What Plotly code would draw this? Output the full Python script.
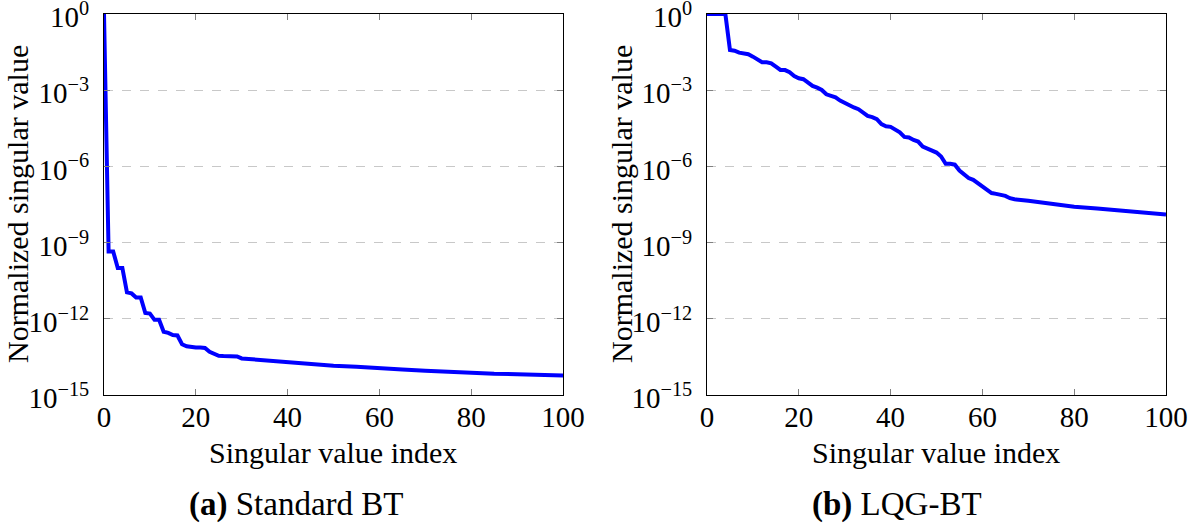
import plotly.graph_objects as go

# ---- data ----
bt_index = [0, 1, 2, 3, 4, 5, 6, 7, 8, 9, 10, 11, 12, 13, 14, 15, 16, 17, 18, 19,
            20, 21, 22, 23, 24, 25, 26, 27, 28, 29, 30, 35, 40, 45, 50, 55, 60, 65,
            70, 75, 80, 85, 90, 95, 100]
bt_values = [1.0, 4.5e-10, 4.5e-10, 1.0e-10, 1.0e-10, 1.1e-11, 1.0e-11, 6.9e-12, 6.9e-12,
             1.7e-12, 1.6e-12, 9.1e-13, 9.1e-13, 3.1e-13, 2.8e-13, 2.3e-13, 2.2e-13,
             1.0e-13, 8.3e-14, 7.6e-14, 7.4e-14, 7.4e-14, 7.1e-14, 5.0e-14, 4.1e-14,
             3.5e-14, 3.4e-14, 3.4e-14, 3.3e-14, 3.3e-14, 2.75e-14, 2.3e-14, 1.95e-14,
             1.66e-14, 1.41e-14, 1.29e-14, 1.10e-14, 1.0e-14, 9.1e-15, 8.1e-15, 7.4e-15,
             6.9e-15, 6.6e-15, 6.3e-15, 5.9e-15]

lqg_index = list(range(0, 68)) + [70, 72, 75, 80, 85, 90, 95, 100]
lqg_values = [1.0, 1.0, 1.0, 1.0, 1.0, 3.8e-2, 3.6e-2, 3.0e-2, 2.8e-2, 2.6e-2,
              2.1e-2, 1.66e-2, 1.26e-2, 1.26e-2, 1.15e-2, 8.5e-3, 6.3e-3, 6.2e-3, 5.1e-3, 3.6e-3,
              2.95e-3, 2.7e-3, 2.0e-3, 1.48e-3, 1.26e-3, 1.02e-3, 6.9e-4, 6.2e-4, 5.2e-4, 3.9e-4,
              3.1e-4, 2.5e-4, 2.1e-4, 1.78e-4, 1.32e-4, 9.8e-5, 8.7e-5, 7.2e-5, 4.6e-5, 3.8e-5,
              3.6e-5, 2.75e-5, 2.2e-5, 1.45e-5, 1.38e-5, 1.1e-5, 9.5e-6, 6.0e-6, 4.9e-6, 4.1e-6,
              3.5e-6, 2.45e-6, 1.26e-6, 1.26e-6, 1.17e-6, 6.9e-7, 4.7e-7, 3.5e-7, 2.95e-7, 2.2e-7,
              1.62e-7, 1.12e-7, 8.9e-8, 8.3e-8, 7.6e-8, 6.9e-8, 5.6e-8, 5.1e-8,
              4.4e-8, 3.9e-8, 3.4e-8, 2.6e-8, 2.2e-8, 1.82e-8, 1.55e-8, 1.29e-8]

y_tickvals = [1e-15, 1e-12, 1e-9, 1e-6, 1e-3, 1e0]
y_ticktext = ["10<sup>\u221215</sup>", "10<sup>\u221212</sup>", "10<sup>\u22129</sup>",
              "10<sup>\u22126</sup>", "10<sup>\u22123</sup>", "10<sup>0</sup>"]
x_tickvals = [0, 20, 40, 60, 80, 100]

x_title = "Singular value index"
y_title = "Normalized singular value"
captions = ["<b>(a)</b> Standard BT", "<b>(b)</b> LQG-BT"]

W, H = 1195, 527
FONT = "Liberation Serif"
FS_TICK = 29
FS_TITLE = 30
FS_CAP = 33

fig = go.Figure()
fig.add_trace(go.Scatter(x=bt_index, y=bt_values, mode="lines",
                         line=dict(color="#0000ff", width=4), xaxis="x", yaxis="y",
                         showlegend=False))
fig.add_trace(go.Scatter(x=lqg_index, y=lqg_values, mode="lines",
                         line=dict(color="#0000ff", width=4), xaxis="x2", yaxis="y2",
                         showlegend=False))


def px_x(p):
    return p / W


def px_y(p):
    return 1 - p / H


ydom = [px_y(395), px_y(14)]
xdom1 = [px_x(104), px_x(563)]
xdom2 = [px_x(707), px_x(1166)]

common_x = dict(range=[0, 100], tickvals=x_tickvals, ticks="inside", ticklen=6,
                tickcolor="#808080", showline=True, linecolor="black", linewidth=1,
                mirror="ticks", showgrid=False, zeroline=False, automargin=False,
                ticklabeloverflow="allow",
                tickfont=dict(family=FONT, size=FS_TICK, color="black"), ticklabelstandoff=-4)
common_y = dict(type="log", range=[-15, 0], tickvals=y_tickvals, ticktext=y_ticktext,
                ticks="inside", ticklen=6, tickcolor="#808080", showline=True,
                linecolor="black", linewidth=1, mirror="ticks", showgrid=True,
                gridcolor="#c8c8c8", griddash="dash", gridwidth=1, zeroline=False,
                automargin=False, ticklabeloverflow="allow", ticklabelshift=3,
                tickfont=dict(family=FONT, size=FS_TICK, color="black"), ticklabelstandoff=8)

fig.update_layout(
    width=W, height=H,
    margin=dict(l=0, r=0, t=0, b=0, autoexpand=False),
    paper_bgcolor="white", plot_bgcolor="white",
    font=dict(family=FONT, size=FS_TITLE, color="black"),
    xaxis=dict(domain=xdom1, anchor="y", **common_x),
    yaxis=dict(domain=ydom, anchor="x", **common_y),
    xaxis2=dict(domain=xdom2, anchor="y2", **common_x),
    yaxis2=dict(domain=ydom, anchor="x2", **common_y),
)

ann = []
for cx, ylx in [(333, 17), (936, 621)]:
    ann.append(dict(text=x_title, x=px_x(cx), y=px_y(452), xref="paper", yref="paper",
                    xanchor="center", yanchor="middle", showarrow=False,
                    font=dict(family=FONT, size=FS_TITLE)))
    ann.append(dict(text=y_title, x=px_x(ylx), y=px_y(204), xref="paper", yref="paper",
                    xanchor="center", yanchor="middle", showarrow=False, textangle=-90,
                    font=dict(family=FONT, size=FS_TITLE)))
for cap, cx in zip(captions, [296, 897]):
    ann.append(dict(text=cap, x=px_x(cx), y=px_y(504), xref="paper", yref="paper",
                    xanchor="center", yanchor="middle", showarrow=False,
                    font=dict(family=FONT, size=FS_CAP)))
fig.update_layout(annotations=ann)

fig.write_html("out.html", config={"displayModeBar": False},
               post_script="document.body.style.margin='0';document.body.style.overflow='hidden';")
